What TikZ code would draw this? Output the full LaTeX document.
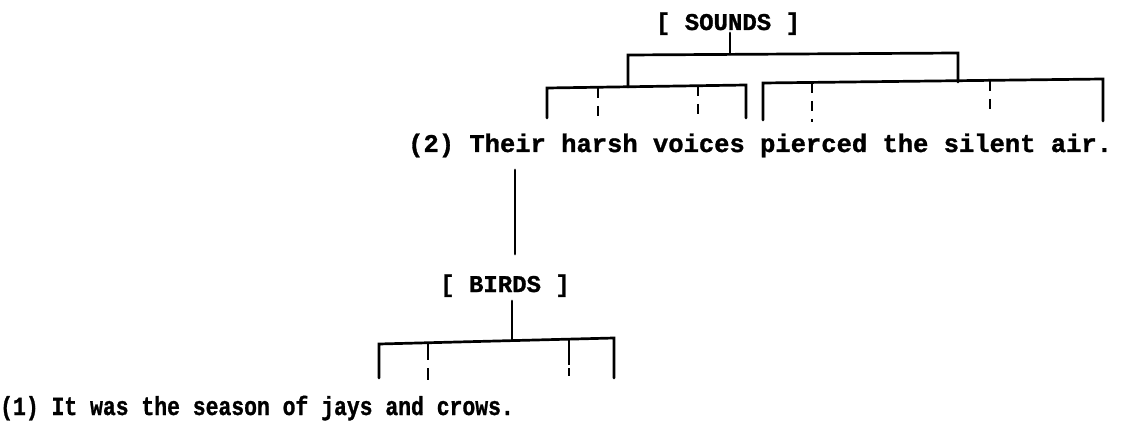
\documentclass[tikz,border=0pt]{standalone}
\usepackage{fontspec}
\newfontfamily\twfont{Liberation Mono Bold}[FakeBold=1.2]
\begin{document}
\begin{tikzpicture}[x=1pt,y=-1pt,
  treeline/.style={line width=2.7pt,line cap=round,line join=miter},
  dashtick/.style={line width=2.5pt,dash pattern=on 10pt off 8pt},
  sent/.style={inner sep=0pt,anchor=base west,font=\twfont\fontsize{25.5pt}{26pt}\selectfont},
  sentsmall/.style={inner sep=0pt,anchor=base west,font=\twfont\fontsize{21.4pt}{22pt}\selectfont},
  label/.style={inner sep=0pt,anchor=base,font=\twfont\fontsize{24pt}{25pt}\selectfont}]
\useasboundingbox (0,0) rectangle (1122,425);
% texts
\node[label] (sounds) at (728,30) {[ SOUNDS ]};
\node[sent] (s2) at (408,152) {(2) Their harsh voices pierced the silent air.};
\node[label] (birds) at (505,292) {[ BIRDS ]};
\node[sentsmall] (s1) at (0,415) {\scalebox{1}[1.22]{(1) It was the season of jays and crows.}};
% coordinates
\coordinate (sTop) at (730,33);
\coordinate (ub) at (730,54);
\coordinate (bTop) at (512,301);
\coordinate (bb) at (512,340);
\coordinate (vTop) at (515,170);
\coordinate (vBot) at (515,254);
% SOUNDS stem and upper bar
\draw[treeline] (sTop) -- (ub);
\draw[treeline] (628,87) -- (628,55) -- (958,53) -- (958,82);
% left bracket
\draw[treeline] (547,118) -- (547,88) -- (746,85) -- (746,118);
\draw[dashtick] (598,88) -- (598,116);
\draw[dashtick] (698,86) -- (698,116);
% right bracket
\draw[treeline] (763,120) -- (763,83) -- (1103,79) -- (1103,121);
\draw[dashtick] (812,83) -- (812,122);
\draw[dashtick] (990,81) -- (990,116);
% link from sentence 2 to BIRDS
\draw[treeline] (vTop) -- (vBot);
% BIRDS stem and bracket
\draw[treeline] (bTop) -- (bb);
\draw[treeline] (379,378) -- (379,344) -- (614,338) -- (614,378);
\draw[line width=2.4pt,dash pattern=on 16pt off 8pt] (428,344) -- (428,380);
\draw[line width=2.4pt,dash pattern=on 25pt off 3pt] (569,340) -- (569,376);
\end{tikzpicture}
\end{document}
